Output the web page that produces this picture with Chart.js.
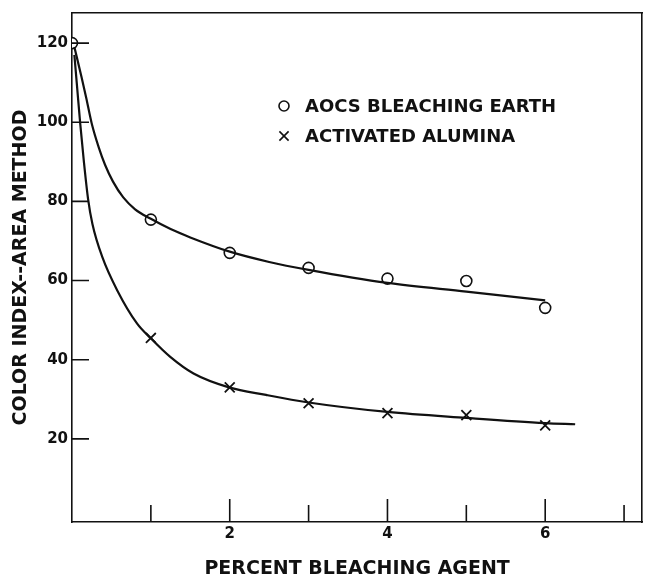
<!DOCTYPE html>
<html>
<head>
<meta charset="utf-8">
<script src="https://cdn.jsdelivr.net/npm/chart.js@4/dist/chart.umd.min.js"></script>
<style>
  html, body { margin: 0; padding: 0; background: #fff; }
  #wrap { width: 651px; height: 576px; }
</style>
</head>
<body>
<div id="wrap"><canvas id="c" width="651" height="576"></canvas></div>
<script>
// ---- Data ----
const percentAgent = [0, 1, 2, 3, 4, 5, 6];
const aocsValues = [120, 75.4, 67.0, 63.2, 60.5, 59.9, 53.1];
const aluminaX = [1, 2, 3, 4, 5, 6];
const aluminaValues = [45.5, 33.0, 29.0, 26.5, 26.0, 23.4];

// smoothed fitted curves (as drawn in the figure)
const aocsCurveX = [0.03, 0.12, 0.18, 0.25, 0.34, 0.42, 0.52, 0.65, 0.8, 1.0, 1.25, 1.5, 2, 2.5, 3, 4, 5, 6];
const aocsCurveY = [119, 111.5, 106.2, 99.7, 93.6, 89.2, 85.0, 81.0, 78.0, 75.6, 73.0, 70.9, 67.3, 64.7, 62.7, 59.4, 57.2, 55.0];
const aluminaCurveX = [0.03, 0.06, 0.104, 0.15, 0.204, 0.259, 0.385, 0.574, 0.826, 0.994, 1.246, 1.541, 1.99, 2.46, 3, 4, 5, 6, 6.38];
const aluminaCurveY = [117, 110, 99.7, 90.2, 80.6, 74.3, 65.9, 57.5, 49.1, 45.5, 40.7, 36.5, 33.0, 31.1, 29.2, 26.8, 25.3, 24.0, 23.7];

const yTickValues = [20, 40, 60, 80, 100, 120];
const xLabelValues = [2, 4, 6];
const xMarkValues = [1, 2, 3, 4, 5, 6, 7];

const seriesNames = ['AOCS BLEACHING EARTH', 'ACTIVATED ALUMINA'];
const xTitle = 'PERCENT BLEACHING AGENT';
const yTitle = 'COLOR INDEX--AREA METHOD';

const toXY = (xs, ys) => xs.map((x, i) => ({ x: x, y: ys[i] }));

const FONT = '"DejaVu Sans", sans-serif';
const INK = '#111';

const tickMarks = {
  id: 'tickMarks',
  afterDraw(chart) {
    const { ctx, chartArea, scales } = chart;
    ctx.save();
    ctx.strokeStyle = INK;
    ctx.lineWidth = 1.6;
    ctx.beginPath();
    yTickValues.forEach(v => {
      const py = scales.y.getPixelForValue(v);
      ctx.moveTo(chartArea.left, py);
      ctx.lineTo(chartArea.left + 17, py);
    });
    xMarkValues.forEach(v => {
      const px = scales.x.getPixelForValue(v);
      const len = v % 2 === 0 ? 23 : 17;
      ctx.moveTo(px, chartArea.bottom);
      ctx.lineTo(px, chartArea.bottom - len);
    });
    ctx.stroke();
    ctx.restore();
  }
};

const legendBox = {
  id: 'legendBox',
  afterDraw(chart) {
    const { ctx } = chart;
    ctx.save();
    ctx.fillStyle = INK;
    ctx.font = 'bold 18px ' + FONT;
    ctx.textBaseline = 'middle';
    ctx.textAlign = 'left';
    const rows = [
      { y: 106, style: 'circle', r: 5, text: seriesNames[0] },
      { y: 136, style: 'crossRot', r: 6.5, text: seriesNames[1] }
    ];
    rows.forEach(r => {
      ctx.strokeStyle = INK;
      ctx.fillStyle = '#fff';
      ctx.lineWidth = 1.6;
      Chart.helpers.drawPoint(ctx, { pointStyle: r.style, radius: r.r, borderWidth: 1.6 }, 284, r.y);
      ctx.fillStyle = INK;
      ctx.fillText(r.text, 305, r.y + 1);
    });
    ctx.restore();
  }
};

new Chart(document.getElementById('c'), {
  type: 'scatter',
  data: {
    datasets: [
      {
        label: seriesNames[0] + ' curve',
        type: 'line',
        data: toXY(aocsCurveX, aocsCurveY),
        borderColor: INK, borderWidth: 2.2,
        pointRadius: 0, fill: false,
        cubicInterpolationMode: 'monotone'
      },
      {
        label: seriesNames[1] + ' curve',
        type: 'line',
        data: toXY(aluminaCurveX, aluminaCurveY),
        borderColor: INK, borderWidth: 2.2,
        pointRadius: 0, fill: false,
        cubicInterpolationMode: 'monotone'
      },
      {
        label: seriesNames[0],
        data: toXY(percentAgent, aocsValues),
        pointStyle: 'circle', pointRadius: 5.5,
        pointBackgroundColor: '#fff', pointBorderColor: INK, pointBorderWidth: 1.6,
        showLine: false
      },
      {
        label: seriesNames[1],
        data: toXY(aluminaX, aluminaValues),
        pointStyle: 'crossRot', pointRadius: 7,
        pointBorderColor: INK, pointBorderWidth: 1.8,
        showLine: false
      }
    ]
  },
  options: {
    responsive: false,
    animation: false,
    devicePixelRatio: 1,
    layout: { padding: { left: 0, top: 13, right: 4, bottom: 0 } },
    plugins: { legend: { display: false }, tooltip: { enabled: false } },
    scales: {
      x: {
        type: 'linear', position: 'bottom',
        min: 0, max: 7.23,
        afterBuildTicks: s => { s.ticks = xLabelValues.map(v => ({ value: v })); },
        afterFit: s => { s.height = 54; },
        ticks: { color: INK, font: { family: FONT, size: 15, weight: 'bold' }, padding: 3, autoSkip: false, maxRotation: 0 },
        grid: { display: false, drawTicks: false },
        border: { display: true, color: INK, width: 1.6 },
        title: { display: true, text: xTitle, color: INK, font: { family: FONT, size: 19, weight: 'bold', lineHeight: 1 }, padding: { top: 0, bottom: -3 } }
      },
      y: {
        type: 'linear', position: 'left',
        min: -1, max: 127.6,
        afterBuildTicks: s => { s.ticks = yTickValues.map(v => ({ value: v })); },
        afterFit: s => { s.width = 72; },
        ticks: { color: INK, font: { family: FONT, size: 15, weight: 'bold' }, padding: 4 },
        grid: { display: false, drawTicks: false },
        border: { display: true, color: INK, width: 1.6 },
        title: { display: true, text: yTitle, color: INK, font: { family: FONT, size: 19, weight: 'bold', lineHeight: 1 }, padding: { top: 12, bottom: 0 } }
      },
      xTop: {
        type: 'linear', position: 'top', display: true,
        afterFit: s => { s.height = 0; },
        ticks: { display: false }, grid: { display: false, drawTicks: false },
        border: { display: true, color: INK, width: 1.6 }
      },
      yRight: {
        type: 'linear', position: 'right', display: true,
        afterFit: s => { s.width = 0; },
        ticks: { display: false }, grid: { display: false, drawTicks: false },
        border: { display: true, color: INK, width: 1.6 }
      }
    }
  },
  plugins: [tickMarks, legendBox]
});
</script>
</body>
</html>
